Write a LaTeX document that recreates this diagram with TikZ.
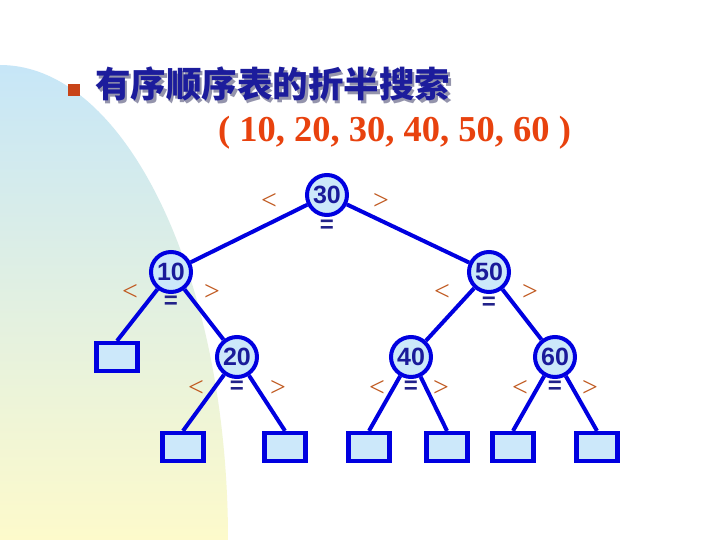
\documentclass[tikz,border=0pt]{standalone}
\usepackage{fontspec}
\setmainfont{Liberation Serif}
\newfontfamily\cjkfont{Noto Sans CJK SC}
\newfontfamily\arialfont{Liberation Sans}
\usepackage{tikz}
\usetikzlibrary{positioning,calc}
\definecolor{bgblue}{HTML}{C6E6F8}
\definecolor{bgmid}{HTML}{E2F1E6}
\definecolor{bgyellow}{HTML}{FDFACB}
\definecolor{titleblue}{HTML}{1C1C9C}
\definecolor{shadowgray}{HTML}{9494AC}
\definecolor{listred}{HTML}{E8420E}
\definecolor{bulletred}{HTML}{C84418}
\definecolor{treeblue}{HTML}{0000E0}
\definecolor{nodefill}{HTML}{CCE8FA}
\definecolor{keytext}{HTML}{1A1A9A}
\definecolor{cmpbrown}{HTML}{C0581E}
\definecolor{eqblue}{HTML}{22228A}
\tikzset{
    keynode/.style={
        circle, draw=treeblue, fill=nodefill, line width=4pt,
        minimum size=40pt, inner sep=0pt, text=keytext,
        font=\arialfont\bfseries\fontsize{25}{25}\selectfont
    },
    leafbox/.style={
        rectangle, draw=treeblue, fill=nodefill, line width=4.2pt,
        minimum width=41pt, minimum height=28pt, inner sep=0pt
    },
    edge/.style={draw=treeblue, line width=4pt},
    ltmark/.style={text=cmpbrown, inner sep=0pt, font=\fontsize{28}{28}\selectfont},
    gtmark/.style={text=cmpbrown, inner sep=0pt, font=\fontsize{28}{28}\selectfont},
    eqmark/.style={text=eqblue, inner sep=0pt, font=\arialfont\bfseries\fontsize{24}{24}\selectfont},
    titletext/.style={text=titleblue, inner sep=0pt, anchor=base west,
        font=\cjkfont\bfseries\fontsize{35.5}{36}\selectfont},
    titleshadow/.style={titletext, text=shadowgray},
    listtext/.style={text=listred, inner sep=0pt, anchor=base west,
        font=\bfseries\fontsize{36.5}{36.5}\selectfont},
}

\begin{document}
\begin{tikzpicture}[x=1pt, y=-1pt]
    \useasboundingbox (0,0) rectangle (720,540);
    \fill[white] (0,0) rectangle (720,540);
    % background swoosh
    \begin{scope}
        \clip (0,540) ellipse [x radius=228, y radius=475];
        \shade[top color=bgblue, middle color=bgmid, bottom color=bgyellow] (0,60) rectangle (230,540);
    \end{scope}

    % heading
    \fill[bulletred] (68,84) rectangle (80,96);
    \node[titleshadow] (titleshade) at (97.5,100.5) {有序顺序表的折半搜索};
    \node[titletext] (title) at (95,98) {有序顺序表的折半搜索};
    \node[listtext] (list) at (218,142) {( 10, 20, 30, 40, 50, 60 )};

    % tree
    \node[keynode] (n30) at (327,195) {30};
    \node[keynode] (n10) at (171,272) {10};
    \node[keynode] (n50) at (489,272) {50};
    \node[keynode] (n20) at (237,357) {20};
    \node[keynode] (n40) at (411,357) {40};
    \node[keynode] (n60) at (555,357) {60};

    \node[leafbox] (f0) at (117,357) {};
    \node[leafbox] (f1) at (183,447) {};
    \node[leafbox] (f2) at (285,447) {};
    \node[leafbox] (f3) at (369,447) {};
    \node[leafbox] (f4) at (447,447) {};
    \node[leafbox] (f5) at (513,447) {};
    \node[leafbox] (f6) at (597,447) {};

    \draw[edge] (n30) -- (n10);
    \draw[edge] (n30) -- (n50);
    \draw[edge] (n10) -- (f0.north);
    \draw[edge] (n10) -- (n20);
    \draw[edge] (n50) -- (n40);
    \draw[edge] (n50) -- (n60);
    \draw[edge] (n20) -- (f1.north);
    \draw[edge] (n20) -- (f2.north);
    \draw[edge] (n40) -- (f3.north);
    \draw[edge] (n40) -- (f4.north);
    \draw[edge] (n60) -- (f5.north);
    \draw[edge] (n60) -- (f6.north);

    % comparison marks
    \node[ltmark] (lt30) at ($(n30)+(-58,6)$) {<};
    \node[eqmark] (eq30) at ($(n30)+(0,31)$) {=};
    \node[gtmark] (gt30) at ($(n30)+(54,6)$) {>};
    \node[ltmark] (lt10) at ($(n10)+(-41,20)$) {<};
    \node[eqmark] (eq10) at ($(n10)+(0,30)$) {=};
    \node[gtmark] (gt10) at ($(n10)+(41,20)$) {>};
    \node[ltmark] (lt50) at ($(n50)+(-47,20)$) {<};
    \node[eqmark] (eq50) at ($(n50)+(0,31)$) {=};
    \node[gtmark] (gt50) at ($(n50)+(41,20)$) {>};
    \node[ltmark] (lt20) at ($(n20)+(-41,31)$) {<};
    \node[eqmark] (eq20) at ($(n20)+(0,30)$) {=};
    \node[gtmark] (gt20) at ($(n20)+(41,31)$) {>};
    \node[ltmark] (lt40) at ($(n40)+(-34,31)$) {<};
    \node[eqmark] (eq40) at ($(n40)+(0,30)$) {=};
    \node[gtmark] (gt40) at ($(n40)+(30,31)$) {>};
    \node[ltmark] (lt60) at ($(n60)+(-35,31)$) {<};
    \node[eqmark] (eq60) at ($(n60)+(0,30)$) {=};
    \node[gtmark] (gt60) at ($(n60)+(35,31)$) {>};
\end{tikzpicture}
\end{document}
